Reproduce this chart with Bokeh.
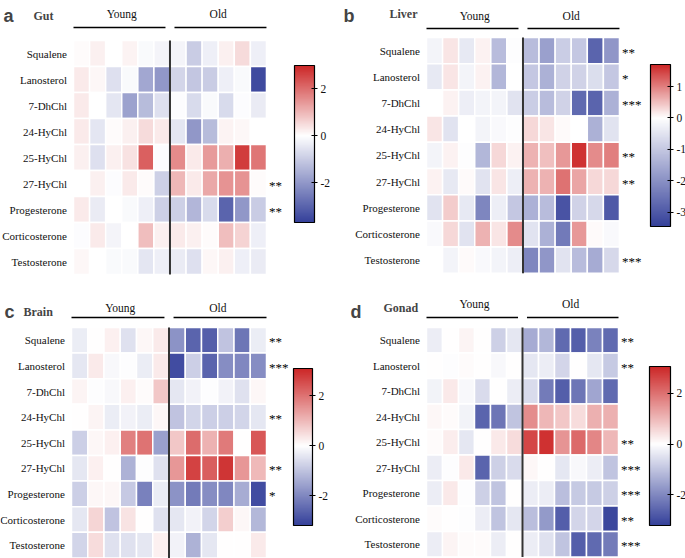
import numpy as np
from bokeh.plotting import figure
from bokeh.models import (ColumnDataSource, LinearColorMapper, ColorBar,
                          FixedTicker, Range1d, Label)
from bokeh.layouts import column, row
from bokeh.embed import file_html
from bokeh.resources import INLINE
from bokeh.core.properties import value

# ---------------- data ----------------
metabolites = ["Squalene", "Lanosterol", "7-DhChl", "24-HyChl", "25-HyChl",
               "27-HyChl", "Progesterone", "Corticosterone", "Testosterone"]
groups = ["Young", "Old"]
n_per_group = 6

gut = [
    [0.05, 0.2, 0.0, 0.15, -0.1, -0.2, -0.2, -1.0, -0.3, 0.2, 0.5, -0.3],
    [0.3, 0.1, -0.6, -0.1, -1.7, -2.0, -0.8, -1.1, -1.0, -0.3, -0.1, -3.5],
    [0.3, 0.0, -0.5, -1.8, -1.3, -0.6, -0.05, -0.7, -0.1, -0.7, -0.05, -0.4],
    [0.3, -0.5, 0.05, 0.2, 0.5, 0.3, -0.5, -2.0, -1.3, 0.15, 0.1, 0.0],
    [0.2, -0.6, 0.2, 0.4, 2.2, -0.05, 1.6, 0.3, 1.4, 1.1, 2.7, 1.9],
    [0.0, 0.2, -0.05, 0.3, 0.05, -0.9, 1.0, 0.3, 1.2, 1.5, 1.5, 0.05],
    [0.3, -0.4, 0.0, -0.1, -0.3, -0.9, -0.9, -1.4, -0.7, -3.0, -2.0, -1.0],
    [-0.05, 0.3, -0.2, 0.0, 0.9, 0.2, 0.3, 0.2, 0.05, 0.9, 0.6, -0.3],
    [0.1, 0.0, -0.1, -0.1, -0.5, -0.3, -0.4, -0.6, 0.1, 0.2, -0.3, -0.4],
]
gut_stars = ["", "", "", "", "", "**", "**", "", ""]
gut_range = (-3.7, 3.0)
gut_ticks = [-2, 0, 2]

liver = [
    [-0.2, 0.2, -0.4, 0.1, -1.2, -0.05, -1.2, -1.7, -0.9, -1.0, -2.8, -1.9],
    [-0.4, 0.2, -0.2, 0.1, -1.3, 0.0, -1.0, -1.4, -0.8, -0.8, -0.6, -1.0],
    [0.0, 0.1, -0.3, -0.2, -0.2, -0.5, -0.9, -1.2, -0.8, -2.7, -2.8, -1.4],
    [0.2, -0.5, 0.0, -0.2, -0.1, -0.05, 0.3, 0.2, 0.05, 0.0, -1.4, -0.5],
    [-0.2, 0.1, -0.05, -1.3, 0.3, 0.1, 0.6, 0.5, 0.8, 1.6, 0.9, 1.0],
    [0.1, -0.4, 0.05, -0.5, 0.2, -0.3, 0.6, 0.6, 1.1, 0.7, 0.3, 0.3],
    [-0.5, 0.4, -0.4, -2.2, -0.3, -1.0, -1.4, -1.2, -3.1, -0.8, -0.7, -3.0],
    [-0.1, 0.3, -0.5, 0.6, 0.2, 0.9, -0.5, -1.4, -2.4, 0.8, 0.05, -0.1],
    [0.0, -0.2, 0.05, -0.1, -0.2, -0.3, -2.2, -1.9, -0.5, -1.2, -1.5, -0.7],
]
liver_stars = ["**", "*", "***", "", "**", "**", "", "", "***"]
liver_range = (-3.45, 1.7)
liver_ticks = [-3, -2, -1, 0, 1]

brain = [
    [-0.3, 0.0, 0.2, -0.5, 0.1, 0.3, -1.8, -2.6, -2.7, -1.0, -2.3, -0.3],
    [-0.4, 0.3, -0.1, -0.05, -0.3, 0.3, -3.0, -0.8, -2.6, -1.9, -2.0, -1.9],
    [0.15, -0.05, -0.1, 0.2, 0.05, 0.8, -0.4, -0.2, -0.05, -0.2, -0.5, 0.1],
    [0.0, 0.15, -0.3, -0.2, -0.3, 0.1, -1.0, -0.7, -0.8, -0.8, -0.7, -0.4],
    [-0.8, 0.1, 0.2, 1.8, 2.0, -1.6, 0.8, 2.1, 1.1, 1.9, 0.0, 2.4],
    [-0.4, 0.2, 0.0, -1.3, -0.05, -0.5, 1.5, 2.7, 2.3, 2.9, 1.5, 1.0],
    [-0.8, 0.1, 0.1, -0.9, -2.1, -0.3, -1.8, -2.2, -1.9, -2.0, -1.4, -3.0],
    [-0.4, 0.6, -1.0, 0.4, 0.0, -0.5, -0.4, -0.2, -0.7, 0.7, 0.1, -1.2],
    [-0.7, 0.5, -0.5, -0.5, -0.4, 0.2, -0.2, -1.3, -0.4, 0.0, 0.0, 0.3],
]
brain_stars = ["**", "***", "", "**", "", "**", "*", "", ""]
brain_range = (-3.2, 3.1)
brain_ticks = [-2, 0, 2]

gonad = [
    [-0.3, 0.0, 0.15, 0.0, -0.8, -0.4, -1.4, -1.2, -2.5, -2.7, -2.1, -2.5],
    [0.0, -0.05, 0.05, 0.0, -0.1, 0.0, -0.4, -0.3, -0.7, 0.0, -0.4, -0.9],
    [-0.2, 0.3, -0.1, -0.6, 0.0, -0.3, -0.6, -2.2, -2.7, -2.3, -1.5, -2.5],
    [0.1, 0.05, -0.2, -2.6, -2.3, -1.0, 1.6, 1.0, 0.8, 0.5, 1.1, 1.1],
    [0.05, 0.25, -0.4, 0.0, 0.3, 0.5, 2.6, 2.9, 1.5, 2.1, 1.7, 1.0],
    [-0.3, -0.05, 0.3, -2.6, -0.8, -0.6, 0.1, 0.0, -0.4, -0.1, -0.3, -1.0],
    [-0.3, 0.3, -0.05, -0.8, -1.0, 0.0, -0.3, -0.3, -1.1, -0.9, -0.9, -0.8],
    [0.05, 0.0, -0.05, -0.3, -1.0, -0.4, -1.1, -1.7, -2.7, -0.7, -0.7, -3.1],
    [-0.3, 0.15, 0.05, 0.05, -0.3, 0.0, -0.3, -0.5, -1.0, -2.7, -2.5, -2.2],
]
gonad_stars = ["**", "**", "", "", "**", "***", "***", "**", "***"]
gonad_range = (-3.2, 3.05)
gonad_ticks = [-2, 0, 2]

SERIF = "Liberation Serif"
SANS = "Liberation Sans"
BLUE = np.array([52, 64, 154])
RED = np.array([204, 38, 38])
WHITE = np.array([255, 255, 255])


def make_palette(lo, hi, n=256):
    cols = []
    for k in range(n):
        v = lo + (k + 0.5) / n * (hi - lo)
        if v < 0:
            c = WHITE + (BLUE - WHITE) * (v / lo)
        else:
            c = WHITE + (RED - WHITE) * (v / hi)
        cols.append("#%02x%02x%02x" % tuple(int(round(x)) for x in c))
    return cols


def panel(letter, tissue, vals, stars, rng, ticks, fig_w, fig_h,
          heat_left, cw, heat_top, row_h, head_text_px, head_line_px,
          cb_x, cb_y, cb_w, cb_h, letter_xy, tissue_xy):
    nrow = len(metabolites)
    ncol = 2 * n_per_group
    p = figure(width=fig_w, height=fig_h, output_backend="svg",
               toolbar_location=None, x_axis_location=None,
               y_axis_location=None,
               min_border_left=0, min_border_right=0,
               min_border_top=0, min_border_bottom=0)
    x0 = -0.5 - heat_left / cw
    p.x_range = Range1d(x0, x0 + fig_w / cw)
    y_top = nrow - 0.5 + heat_top / row_h
    p.y_range = Range1d(y_top - fig_h / row_h, y_top)
    p.grid.visible = False
    p.outline_line_color = None

    xs, ys, vs = [], [], []
    for i in range(nrow):
        for j in range(ncol):
            xs.append(j)
            ys.append(nrow - 1 - i)
            vs.append(vals[i][j])
    src = ColumnDataSource(dict(x=xs, y=ys, v=vs))
    mapper = LinearColorMapper(palette=make_palette(*rng), low=rng[0], high=rng[1])
    p.rect("x", "y", 1, 1, source=src,
           fill_color={"field": "v", "transform": mapper},
           line_color="white", line_width=1.5)

    # row labels
    p.text(x=[-0.5 - 6.5 / cw] * nrow, y=list(range(nrow - 1, -1, -1)),
           text=metabolites, text_font=value(SERIF), text_font_size="11px",
           text_align="right", text_baseline="middle", text_color="#111111")

    # separator between groups
    sep = n_per_group - 0.5
    p.segment(x0=[sep], y0=[-0.5], x1=[sep], y1=[nrow - 0.5],
              line_color="#333333", line_width=2)

    # group headers
    gap = 0.28
    y_line = nrow - 0.5 + head_line_px / row_h
    y_text = nrow - 0.5 + head_text_px / row_h
    p.segment(x0=[-0.5, sep + gap], y0=[y_line, y_line],
              x1=[sep - gap, ncol - 0.5], y1=[y_line, y_line],
              line_color="black", line_width=1.5)
    p.text(x=[(n_per_group - 1) / 2, n_per_group + (n_per_group - 1) / 2],
           y=[y_text, y_text], text=groups,
           text_font=value(SERIF), text_font_size="11.5px",
           text_align="center", text_baseline="middle", text_color="#111111")

    # significance stars
    p.text(x=[ncol - 0.5 + 2.5 / cw] * nrow, y=list(range(nrow - 1, -1, -1)),
           text=stars, text_font=value(SERIF), text_font_size="13px",
           text_align="left", text_baseline="middle", y_offset=1.5,
           text_color="black")

    cb = ColorBar(color_mapper=mapper, orientation="vertical",
                  location=(cb_x, cb_y), width=cb_w, height=cb_h,
                  padding=0, margin=0, ticker=FixedTicker(ticks=ticks),
                  major_label_overrides={t: str(t) for t in ticks},
                  bar_line_color="black", bar_line_width=1.2,
                  major_tick_line_color="black", major_tick_in=3,
                  major_tick_out=3, label_standoff=3,
                  major_label_text_font=SERIF,
                  major_label_text_font_size="11.5px",
                  major_label_text_color="#111111",
                  background_fill_alpha=0, border_line_color=None)
    p.add_layout(cb)

    p.add_layout(Label(x=letter_xy[0], y=letter_xy[1], x_units="screen",
                       y_units="screen", text=letter, text_font=SANS,
                       text_font_style="bold", text_font_size="18px",
                       text_baseline="alphabetic"))
    p.add_layout(Label(x=tissue_xy[0], y=tissue_xy[1], x_units="screen",
                       y_units="screen", text=tissue, text_font=SERIF,
                       text_font_style="bold", text_font_size="12px",
                       text_baseline="alphabetic"))
    return p


pa = panel("a", "Gut", gut, gut_stars, gut_range, gut_ticks,
           340, 278, 73, 16.08, 40, 26.0, 27, 13,
           294, 56, 20, 157, (3, 263), (33, 263))
pb = panel("b", "Liver", liver, liver_stars, liver_range, liver_ticks,
           345, 278, 86, 16.08, 37, 26.2, 22, 9,
           310, 52, 20, 162, (3, 263), (49, 265))
pc = panel("c", "Brain", brain, brain_stars, brain_range, brain_ticks,
           340, 280, 71, 16.25, 49, 25.6, 20, 10,
           293, 33, 19, 157, (4, 247), (23, 247))
pd = panel("d", "Gonad", gonad, gonad_stars, gonad_range, gonad_ticks,
           345, 280, 86, 16.0, 49, 25.5, 24, 10,
           309, 33, 21, 159, (10, 247), (43, 251))

layout = column(row(pa, pb), row(pc, pd))
open("out.html", "w").write(file_html(layout, INLINE))
